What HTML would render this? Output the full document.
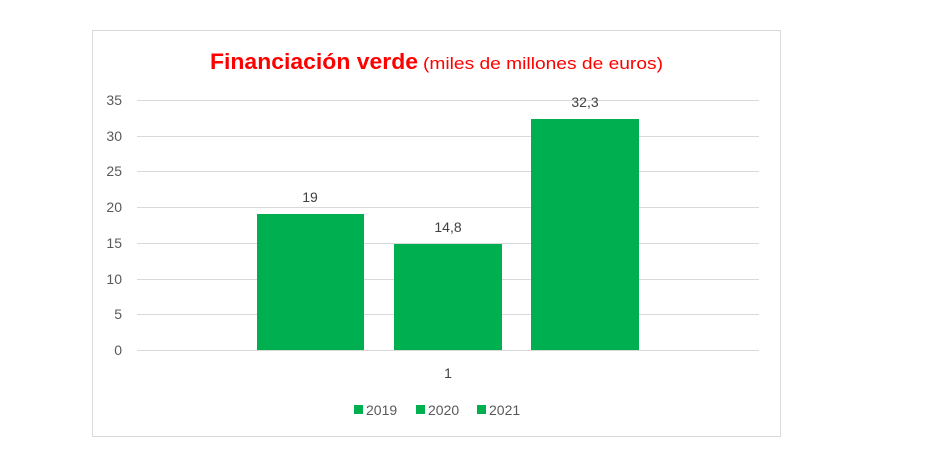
<!DOCTYPE html>
<html><head><meta charset="utf-8"><style>body{margin:0;background:#fff}svg{display:block}</style></head>
<body>
<svg width="928" height="465" xmlns="http://www.w3.org/2000/svg" font-family="Liberation Sans, sans-serif">
<rect x="0" y="0" width="928" height="465" fill="#fff"/>
<rect x="92.5" y="30.5" width="688" height="406" fill="#fff" stroke="#d9d9d9"/>
<text x="210" y="69" font-size="22" font-weight="bold" fill="#ff0000" textLength="208" lengthAdjust="spacingAndGlyphs">Financiación verde</text>
<text x="423" y="69" font-size="17" fill="#ff0000" textLength="240" lengthAdjust="spacingAndGlyphs">(miles de millones de euros)</text>
<g stroke="#d9d9d9" stroke-width="1">
<line x1="137" x2="759" y1="100.5" y2="100.5"/>
<line x1="137" x2="759" y1="136.5" y2="136.5"/>
<line x1="137" x2="759" y1="171.5" y2="171.5"/>
<line x1="137" x2="759" y1="207.5" y2="207.5"/>
<line x1="137" x2="759" y1="243.5" y2="243.5"/>
<line x1="137" x2="759" y1="279.5" y2="279.5"/>
<line x1="137" x2="759" y1="314.5" y2="314.5"/>
<line x1="137" x2="759" y1="350.5" y2="350.5"/>
</g>
<g font-size="14" fill="#595959" text-anchor="end">
<text x="122" y="105">35</text><text x="122" y="141">30</text><text x="122" y="176">25</text>
<text x="122" y="212">20</text><text x="122" y="248">15</text><text x="122" y="284">10</text>
<text x="122" y="319">5</text><text x="122" y="355">0</text>
</g>
<g fill="#00b050">
<rect x="257" y="214" width="107" height="136"/>
<rect x="394" y="244" width="108" height="106"/>
<rect x="531" y="119" width="108" height="231"/>
</g>
<g font-size="14" fill="#404040" text-anchor="middle">
<text x="310" y="202">19</text>
<text x="448" y="232">14,8</text>
<text x="585" y="107">32,3</text>
<text x="448" y="378">1</text>
</g>
<g font-size="14" fill="#595959">
<rect x="354" y="405" width="9" height="9" fill="#00b050"/><text x="366" y="415">2019</text>
<rect x="416" y="405" width="9" height="9" fill="#00b050"/><text x="428" y="415">2020</text>
<rect x="477" y="405" width="9" height="9" fill="#00b050"/><text x="489" y="415">2021</text>
</g>
</svg>
</body></html>
